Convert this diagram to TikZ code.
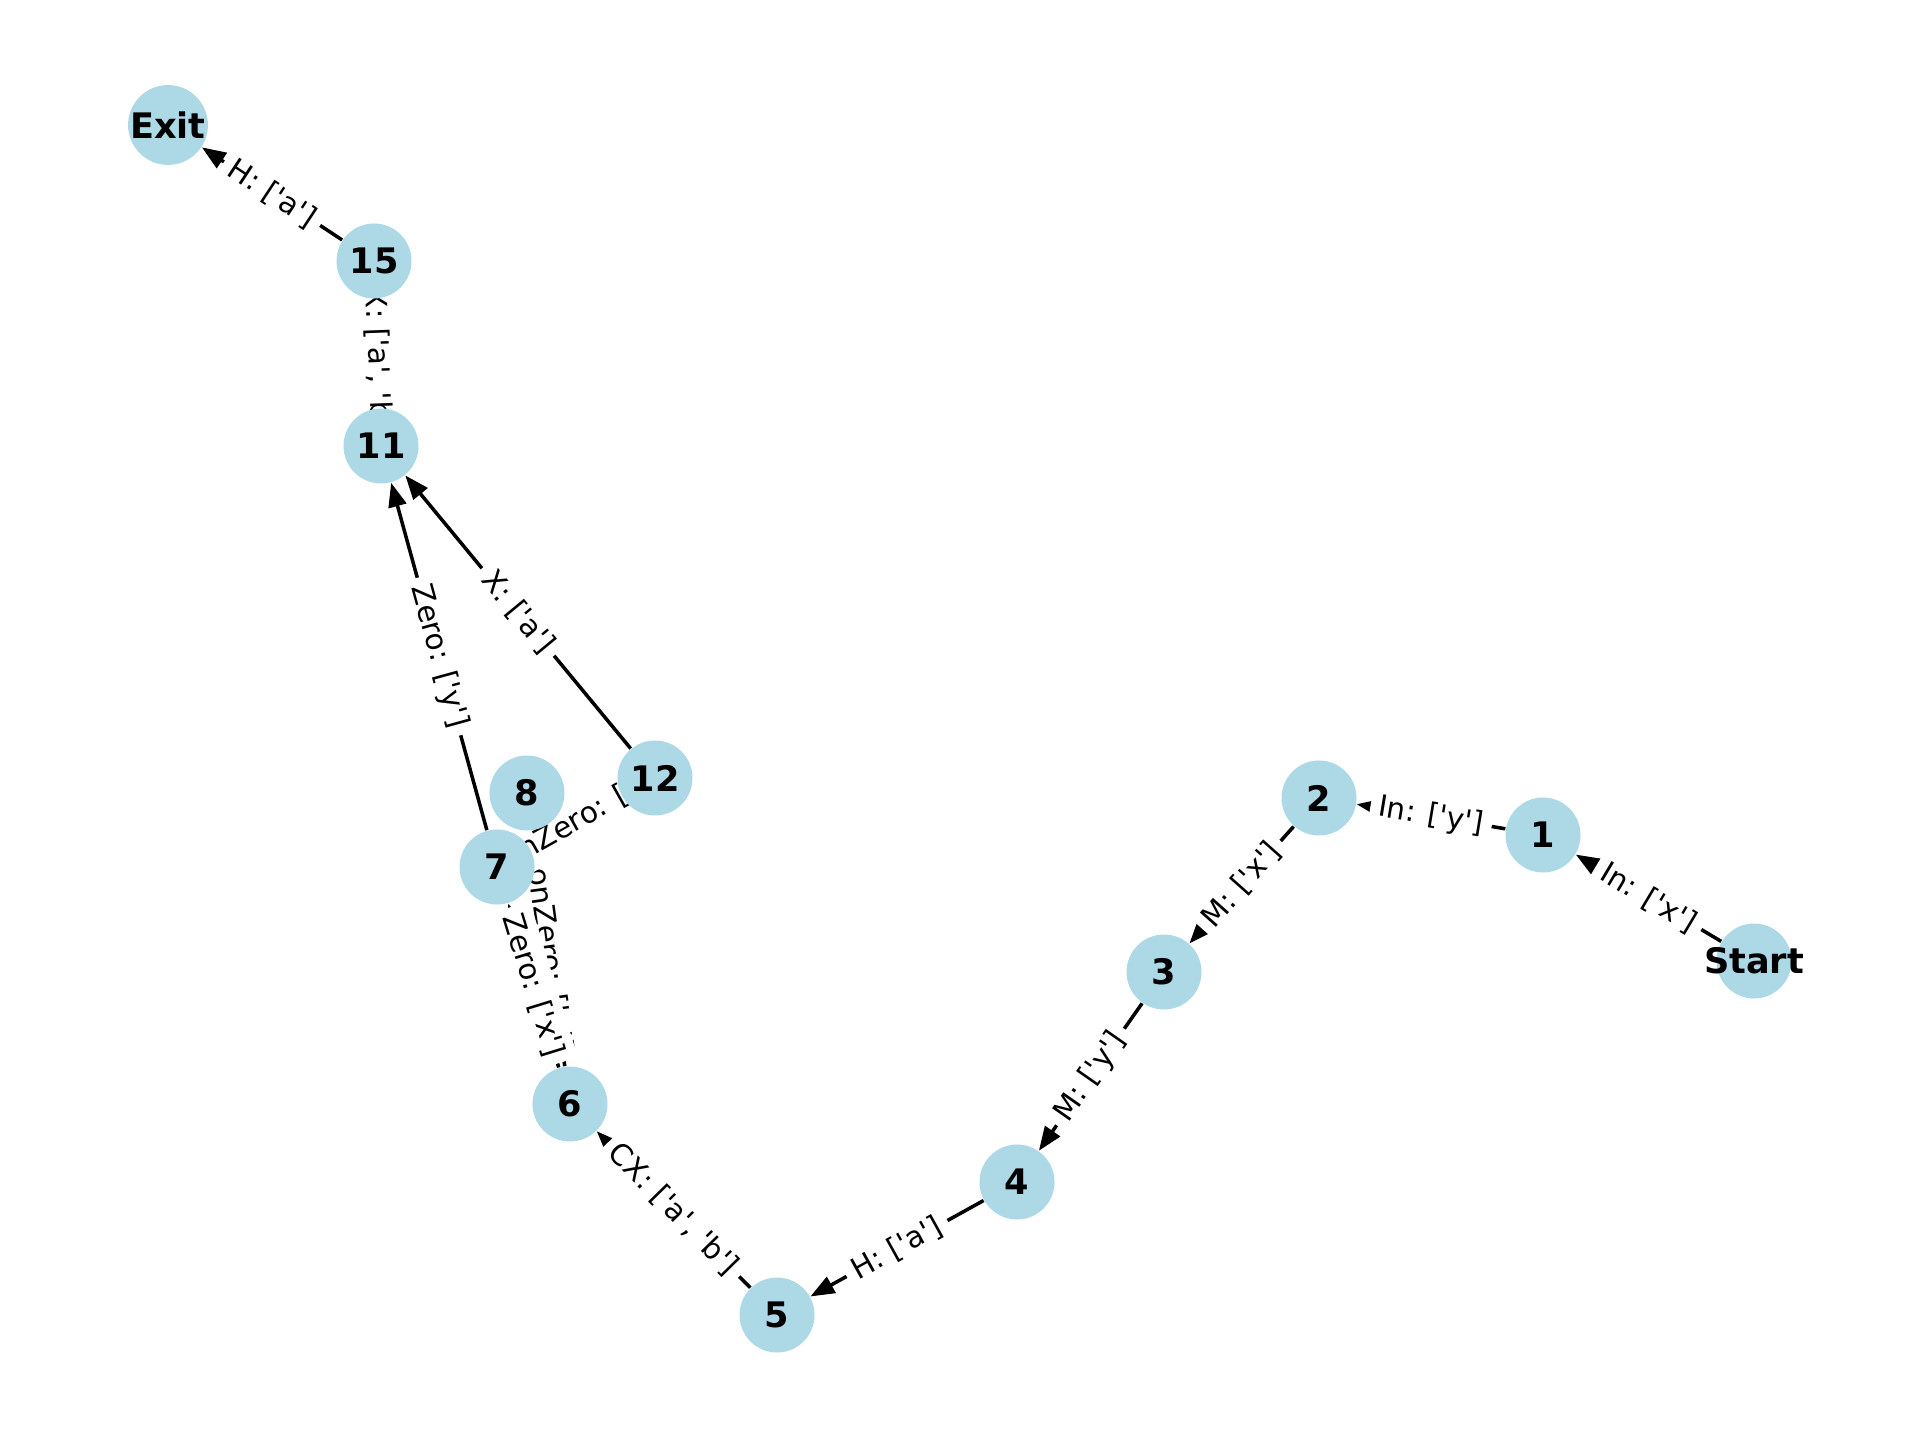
\documentclass[tikz,border=0pt]{standalone}
\usepackage{fontspec}
\newfontfamily\labelfont{DejaVu Sans}
\usetikzlibrary{arrows.meta}
\definecolor{stateblue}{HTML}{ADD8E6}
\pgfdeclarelayer{edgelayer}
\pgfdeclarelayer{labellayer}
\pgfsetlayers{edgelayer,labellayer,main}
\tikzstyle{state} = [circle, minimum size=0.75cm, inner sep=0pt, fill=stateblue, font=\labelfont\fontsize{10}{12}\selectfont\bfseries]
\tikzstyle{arrow} = [line width=1pt, -{Triangle[length=0.24cm, width=0.18cm]}]
\tikzstyle{gate} = [sloped, fill=white, inner sep=2.3pt, font=\labelfont\fontsize{8.4}{10}\selectfont]

\begin{document}
\begin{tikzpicture}

\useasboundingbox (0,0) rectangle (19.2,14.4);

\node (start) [state] at (17.54,4.79) {\makebox[0pt]{Start}};
\node (n1) [state] at (15.43,6.05) {1};
\node (n2) [state] at (13.19,6.42) {2};
\node (n3) [state] at (11.64,4.68) {3};
\node (n4) [state] at (10.17,2.58) {4};
\node (n5) [state] at (7.77,1.25) {5};
\node (n6) [state] at (5.70,3.36) {6};
\node (n7) [state] at (4.97,5.73) {7};
\node (n8) [state] at (5.27,6.47) {8};
\node (n12) [state] at (6.55,6.62) {12};
\node (n11) [state] at (3.81,9.94) {11};
\node (n15) [state] at (3.74,11.79) {15};
\node (exit) [state] at (1.68,13.15) {Exit};

\begin{pgfonlayer}{edgelayer}
\draw [arrow] (start) -- (n1);
\draw [arrow] (n1) -- (n2);
\draw [arrow] (n2) -- (n3);
\draw [arrow] (n3) -- (n4);
\draw [arrow] (n4) -- (n5);
\draw [arrow] (n5) -- (n6);
\draw [arrow] (n6) -- (n8);
\draw [arrow] (n6) -- (n7);
\draw [arrow] (n7) -- (n11);
\draw [arrow] (n7) -- (n12);
\draw [arrow] (n12) -- (n11);
\draw [arrow] (n11) -- (n15);
\draw [arrow] (n15) -- (exit);
\end{pgfonlayer}

% labels sit above the lines, below the states
\begin{pgfonlayer}{labellayer}
\path (start) -- node[gate] {In: ['x']} (n1);
\path (n1) -- node[gate] {In: ['y']} (n2);
\path (n2) -- node[gate] {M: ['x']} (n3);
\path (n3) -- node[gate] {M: ['y']} (n4);
\path (n4) -- node[gate] {H: ['a']} (n5);
\path (n5) -- node[gate] {CX: ['a', 'b']} (n6);
\path (n6) -- node[gate] {NonZero: ['x']} (n8);
\path (n6) -- node[gate] {Zero: ['x']} (n7);
\path (n7) -- node[gate] {Zero: ['y']} (n11);
\path (n7) -- node[gate] {NonZero: ['y']} (n12);
\path (n12) -- node[gate] {X: ['a']} (n11);
\path (n11) -- node[gate] {CX: ['a', 'b']} (n15);
\path (n15) -- node[gate] {H: ['a']} (exit);
\end{pgfonlayer}

\end{tikzpicture}
\end{document}
